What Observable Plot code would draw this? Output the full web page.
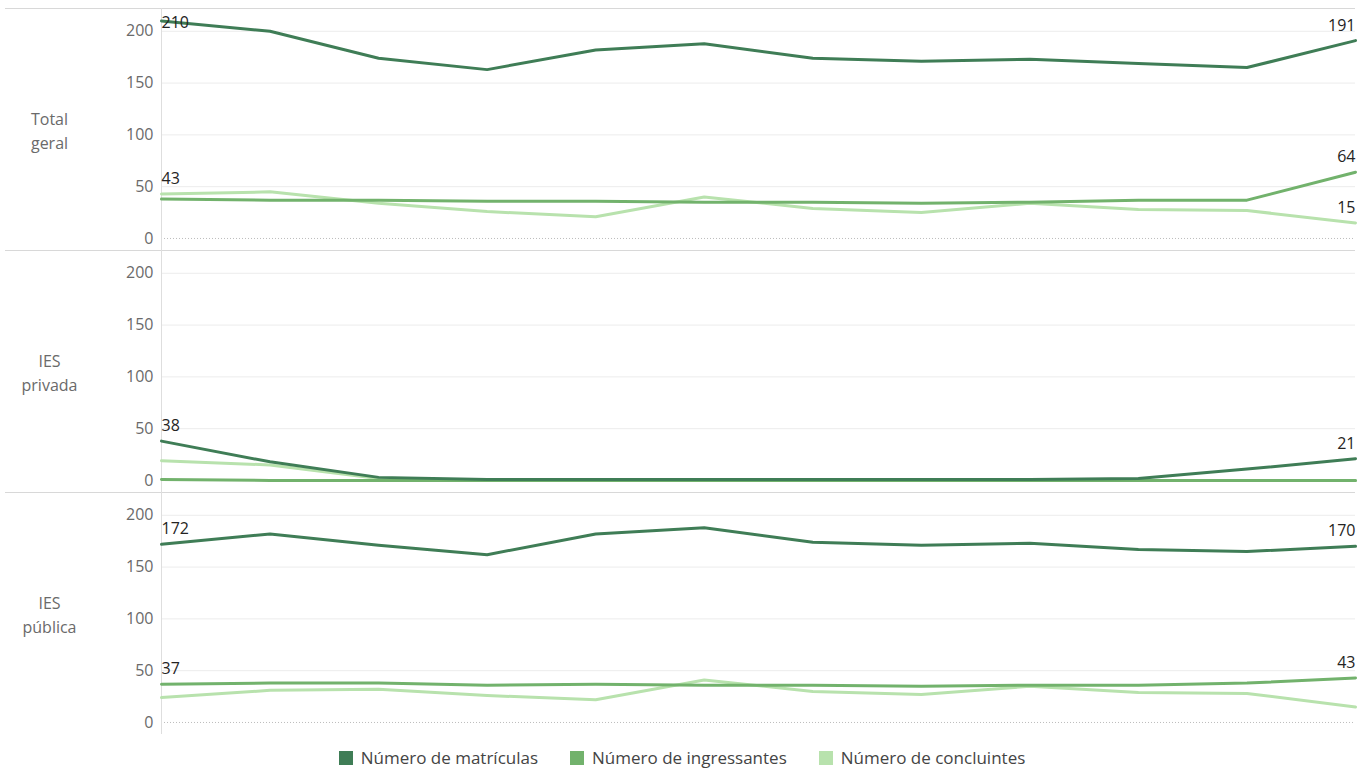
<!DOCTYPE html>
<html>
<head>
<meta charset="utf-8">
<script src="https://cdn.jsdelivr.net/npm/d3@7"></script>
<script src="https://cdn.jsdelivr.net/npm/@observablehq/plot@0.6"></script>
<style>
  body { margin: 0; background: #fff; font-family: "Open Sans", "Noto Sans", sans-serif; }
  #legend { display: flex; justify-content: center; gap: 32px; font-size: 17px; color: #444; padding-top: 11px; line-height: 24px; }
  #legend .item { display: flex; align-items: center; }
  #legend .sw { width: 14px; height: 14px; margin-right: 8px; display: inline-block; }
</style>
</head>
<body>
<div id="chart"></div>
<div id="legend"></div>
<script>
// ---- data ----
const facets = ["Total geral", "IES privada", "IES pública"];
const seriesNames = ["Número de matrículas", "Número de ingressantes", "Número de concluintes"];
const seriesColors = ["#3f7d56", "#72b26c", "#b8e2ad"];
const periods = [1, 2, 3, 4, 5, 6, 7, 8, 9, 10, 11, 12];
const yTicks = [0, 50, 100, 150, 200];

const totalMatriculas   = [210, 200, 174, 163, 182, 188, 174, 171, 173, 169, 165, 191];
const totalIngressantes = [38, 37, 37, 36, 36, 35, 35, 34, 35, 37, 37, 64];
const totalConcluintes  = [43, 45, 34, 26, 21, 40, 29, 25, 34, 28, 27, 15];

const privadaMatriculas   = [38, 18, 3, 1, 1, 1, 1, 1, 1, 2, 11, 21];
const privadaIngressantes = [1, 0, 0, 0, 0, 0, 0, 0, 0, 0, 0, 0];
const privadaConcluintes  = [19, 15, 2, 0, 0, 0, 0, 0, 0, 0, 0, 0];

const publicaMatriculas   = [172, 182, 171, 162, 182, 188, 174, 171, 173, 167, 165, 170];
const publicaIngressantes = [37, 38, 38, 36, 37, 36, 36, 35, 36, 36, 38, 43];
const publicaConcluintes  = [24, 31, 32, 26, 22, 41, 30, 27, 35, 29, 28, 15];

// which end-point labels are visible: [facet, series, "first"|"last"]
const shownLabels = [
  ["Total geral", "Número de matrículas", "first"],
  ["Total geral", "Número de concluintes", "first"],
  ["Total geral", "Número de matrículas", "last"],
  ["Total geral", "Número de ingressantes", "last"],
  ["Total geral", "Número de concluintes", "last"],
  ["IES privada", "Número de matrículas", "first"],
  ["IES privada", "Número de matrículas", "last"],
  ["IES pública", "Número de matrículas", "first"],
  ["IES pública", "Número de ingressantes", "first"],
  ["IES pública", "Número de matrículas", "last"],
  ["IES pública", "Número de ingressantes", "last"]
];

// ---- build table ----
const valueSets = {
  "Total geral": [totalMatriculas, totalIngressantes, totalConcluintes],
  "IES privada": [privadaMatriculas, privadaIngressantes, privadaConcluintes],
  "IES pública": [publicaMatriculas, publicaIngressantes, publicaConcluintes]
};
const rows = [];
for (const f of facets) {
  // draw light first so dark lies on top
  for (let s = seriesNames.length - 1; s >= 0; s--) {
    valueSets[f][s].forEach((v, i) => rows.push({facet: f, series: seriesNames[s], period: periods[i], value: v}));
  }
}
const labelRows = shownLabels.map(([f, s, end]) => {
  const arr = valueSets[f][seriesNames.indexOf(s)];
  const i = end === "first" ? 0 : arr.length - 1;
  return {facet: f, series: s, end, period: periods[i], value: arr[i]};
});

const yDomain = [-11.6, 222];
const labelY = d => Math.min(d.value + 14.5, yDomain[1] - 14);

const chart = Plot.plot({
  width: 1364,
  height: 735,
  marginTop: 7,
  marginBottom: 0,
  marginLeft: 161,
  marginRight: 9,
  style: {fontFamily: '"Open Sans", "Noto Sans", sans-serif', fontSize: "16px", color: "#6a6a6a", background: "#fff"},
  x: {domain: [periods[0], periods[periods.length - 1]], axis: null},
  y: {domain: yDomain, ticks: yTicks, tickSize: 0, tickPadding: 8, label: null},
  fy: {domain: facets, paddingInner: 0, paddingOuter: 0, axis: null},
  color: {domain: seriesNames, range: seriesColors},
  marks: [
    Plot.gridY(yTicks.slice(1), {stroke: "#ececec", strokeOpacity: 1}),
    Plot.ruleY([0], {stroke: "#bdbdbd", strokeDasharray: "1,2"}),
    Plot.ruleY([yDomain[1]], {stroke: "#d8d8d8", insetLeft: -156}),
    Plot.ruleX([periods[0]], {stroke: "#dedede"}),
    Plot.lineY(rows, {x: "period", y: "value", z: "series", stroke: "series", fy: "facet", strokeWidth: 3}),
    Plot.text(labelRows.filter(d => d.end === "first"), {x: "period", y: labelY, fy: "facet", text: d => String(d.value), textAnchor: "start", fill: "#252423", fontSize: 16}),
    Plot.text(labelRows.filter(d => d.end === "last"), {x: "period", y: labelY, fy: "facet", text: d => String(d.value), textAnchor: "end", fill: "#252423", fontSize: 16}),
    Plot.text(facets, {fy: d => d, text: d => d.replace(" ", "\n"), frameAnchor: "left", dx: -112, textAnchor: "middle", fill: "#6a6a6a", fontSize: 16, lineHeight: 1.5})
  ]
});
document.getElementById("chart").appendChild(chart);

const legend = document.getElementById("legend");
seriesNames.forEach((name, i) => {
  const item = document.createElement("div");
  item.className = "item";
  const sw = document.createElement("span");
  sw.className = "sw";
  sw.style.background = seriesColors[i];
  const label = document.createElement("span");
  label.textContent = name;
  item.appendChild(sw);
  item.appendChild(label);
  legend.appendChild(item);
});
</script>
</body>
</html>
